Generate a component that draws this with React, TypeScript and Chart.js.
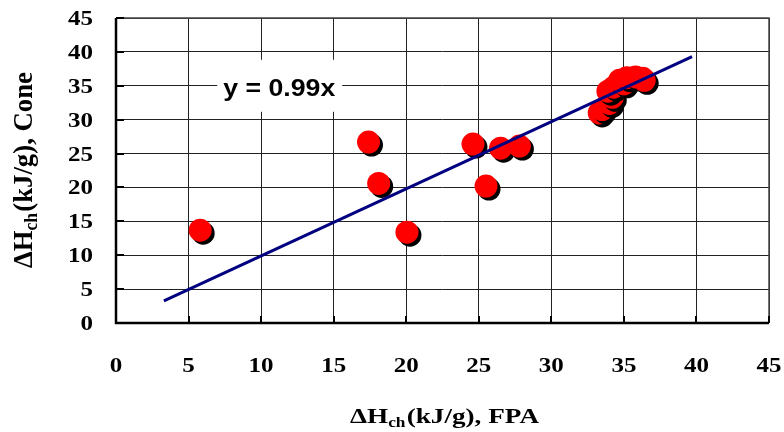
import React, { useEffect, useRef } from "react";
import { Chart, registerables } from "chart.js";

Chart.register(...registerables);

// ---- Data ----
const fpaValues = [5.8, 17.4, 18.1, 20.05, 24.6, 25.5, 26.5, 27.8, 33.3, 33.5, 34.0, 34.2, 33.9, 34.3, 34.7, 35.0, 35.2, 35.8, 36.3, 36.4];
const coneValues = [13.7, 26.7, 20.6, 13.4, 26.4, 20.2, 25.8, 26.1, 31.0, 31.5, 32.4, 33.3, 34.2, 34.8, 35.8, 35.3, 36.2, 36.3, 36.1, 35.8];
const trendX = [3.3, 39.7];
const trendY = [3.27, 39.3];
const xTickLabels = ["0", "5", "10", "15", "20", "25", "30", "35", "40", "45"];
const yTickLabels = ["0", "5", "10", "15", "20", "25", "30", "35", "40", "45"];
const equationText = "y = 0.99x";
const xTitleParts = ["\u0394H", "ch", "(kJ/g), FPA"];
const yTitleParts = ["\u0394H", "ch", "(kJ/g), Cone"];

const SERIF = '"Liberation Serif", "Times New Roman", serif';
const SANS = '"Liberation Sans", Arial, sans-serif';

function drawTitle(ctx: CanvasRenderingContext2D, parts: string[], mainSize: number, subSize: number, targetWidth: number) {
  ctx.font = `bold ${mainSize}px ${SERIF}`;
  const w0 = ctx.measureText(parts[0]).width;
  const w2 = ctx.measureText(parts[2]).width;
  ctx.font = `bold ${subSize}px ${SERIF}`;
  const w1 = ctx.measureText(parts[1]).width + 1;
  const total = w0 + w1 + w2;
  const sx = targetWidth / total;
  ctx.save();
  ctx.scale(sx, 1);
  let x = -total / 2;
  ctx.textAlign = "left";
  ctx.textBaseline = "alphabetic";
  ctx.font = `bold ${mainSize}px ${SERIF}`;
  ctx.fillText(parts[0], x, 0);
  x += w0;
  ctx.font = `bold ${subSize}px ${SERIF}`;
  ctx.fillText(parts[1], x, 4);
  x += w1;
  ctx.font = `bold ${mainSize}px ${SERIF}`;
  ctx.fillText(parts[2], x, 0);
  ctx.restore();
}

function drawFitted(ctx: CanvasRenderingContext2D, text: string, x: number, y: number, font: string, targetWidth: number, align: "left" | "right" | "center") {
  ctx.save();
  ctx.font = font;
  const w = ctx.measureText(text).width;
  const sx = targetWidth / w;
  ctx.translate(x, y);
  ctx.scale(sx, 1);
  ctx.textAlign = align;
  ctx.textBaseline = "alphabetic";
  ctx.fillText(text, 0, 0);
  ctx.restore();
}

const decorPlugin = {
  id: "decor",
  beforeDatasetsDraw(chart: any) {
    const { ctx, chartArea: a, scales } = chart;
    ctx.save();
    ctx.strokeStyle = "#444";
    ctx.lineWidth = 1.5;
    ctx.beginPath();
    ctx.moveTo(a.left, a.top);
    ctx.lineTo(a.right, a.top);
    ctx.lineTo(a.right, a.bottom);
    ctx.stroke();
    ctx.strokeStyle = "#000";
    ctx.lineWidth = 2.5;
    ctx.beginPath();
    ctx.moveTo(a.left, a.top);
    ctx.lineTo(a.left, a.bottom);
    ctx.lineTo(a.right, a.bottom);
    ctx.stroke();
    ctx.lineWidth = 2;
    scales.y.ticks.forEach((t: any) => {
      const y = Math.round(scales.y.getPixelForValue(t.value));
      ctx.beginPath();
      ctx.moveTo(a.left, y);
      ctx.lineTo(a.left + 8, y);
      ctx.stroke();
    });
    scales.x.ticks.forEach((t: any) => {
      const x = Math.round(scales.x.getPixelForValue(t.value));
      ctx.beginPath();
      ctx.moveTo(x, a.bottom);
      ctx.lineTo(x, a.bottom - 7);
      ctx.stroke();
    });
    // equation label
    const cx = scales.x.getPixelForValue(11.25);
    const cy = scales.y.getPixelForValue(35);
    ctx.fillStyle = "#fff";
    ctx.fillRect(cx - 62, cy - 26, 125, 52);
    ctx.fillStyle = "#000";
    drawFitted(ctx, equationText, cx, cy + 10, `bold 23px ${SANS}`, 112, "center");
    ctx.restore();
  },
  beforeDatasetDraw(chart: any, args: any) {
    if (args.index === 1) {
      const ctx = chart.ctx;
      ctx.save();
      ctx.shadowColor = "#000";
      ctx.shadowOffsetX = 3;
      ctx.shadowOffsetY = 3;
      ctx.shadowBlur = 0;
    }
  },
  afterDatasetDraw(chart: any, args: any) {
    if (args.index === 1) chart.ctx.restore();
  },
  afterDraw(chart: any) {
    const { ctx, chartArea: a, scales } = chart;
    ctx.save();
    ctx.fillStyle = "#000";
    const tickFont = `bold 21px ${SERIF}`;
    scales.y.ticks.forEach((t: any, i: number) => {
      const y = scales.y.getPixelForValue(t.value);
      const label = yTickLabels[i] ?? String(t.value);
      drawFitted(ctx, label, a.left - 23, y + 7, tickFont, label.length * 12.5, "right");
    });
    scales.x.ticks.forEach((t: any, i: number) => {
      const x = scales.x.getPixelForValue(t.value);
      const label = xTickLabels[i] ?? String(t.value);
      drawFitted(ctx, label, x, a.bottom + 49, tickFont, label.length * 12.5, "center");
    });
    ctx.save();
    ctx.translate((a.left + a.right) / 2 + 2, 423);
    drawTitle(ctx, xTitleParts, 22, 14, 189);
    ctx.restore();
    ctx.save();
    ctx.translate(32, 170);
    ctx.rotate(-Math.PI / 2);
    ctx.scale(1, 1.2);
    drawTitle(ctx, yTitleParts, 23, 15, 196);
    ctx.restore();
    ctx.restore();
  },
};

export default function App() {
  const ref = useRef<HTMLCanvasElement | null>(null);
  useEffect(() => {
    let chart: Chart | null = null;
    let cancelled = false;
    const make = () => {
      if (cancelled || !ref.current) return;
      chart = new Chart(ref.current, {
        type: "scatter",
        data: {
          datasets: [
            {
              type: "line",
              data: trendX.map((x, i) => ({ x, y: trendY[i] })),
              borderColor: "#000080",
              borderWidth: 3,
              pointRadius: 0,
              fill: false,
            } as any,
            {
              data: fpaValues.map((x, i) => ({ x, y: coneValues[i] })),
              backgroundColor: "#ff0000",
              borderWidth: 0,
              pointRadius: 11.5,
              pointHoverRadius: 11.5,
            },
          ],
        },
        options: {
          responsive: false,
          animation: false,
          events: [],
          layout: { padding: { top: 18, right: 15, left: 0, bottom: 0 }, autoPadding: false },
          plugins: { legend: { display: false }, tooltip: { enabled: false } },
          scales: {
            x: {
              type: "linear",
              min: 0,
              max: 45,
              ticks: { stepSize: 5, display: false },
              grid: { color: "#222", lineWidth: 1, drawTicks: false },
              border: { display: false },
              afterFit: (s: any) => {
                s.height = 109;
              },
            },
            y: {
              type: "linear",
              min: 0,
              max: 45,
              ticks: { stepSize: 5, display: false },
              grid: { color: "#222", lineWidth: 1, drawTicks: false },
              border: { display: false },
              afterFit: (s: any) => {
                s.width = 116;
              },
            },
          },
        } as any,
        plugins: [decorPlugin],
      });
    };
    const fonts: any = (document as any).fonts;
    if (fonts && fonts.load) {
      Promise.all([
        fonts.load(`bold 21px "Liberation Serif"`),
        fonts.load(`bold 23px "Liberation Sans"`),
      ])
        .catch(() => null)
        .then(make);
    } else {
      make();
    }
    return () => {
      cancelled = true;
      if (chart) chart.destroy();
    };
  }, []);
  return (
    <div style={{ position: "absolute", left: 0, top: 0, width: 784, height: 432, background: "#fff" }}>
      <canvas ref={ref} width={784} height={432} style={{ display: "block" }} />
    </div>
  );
}
